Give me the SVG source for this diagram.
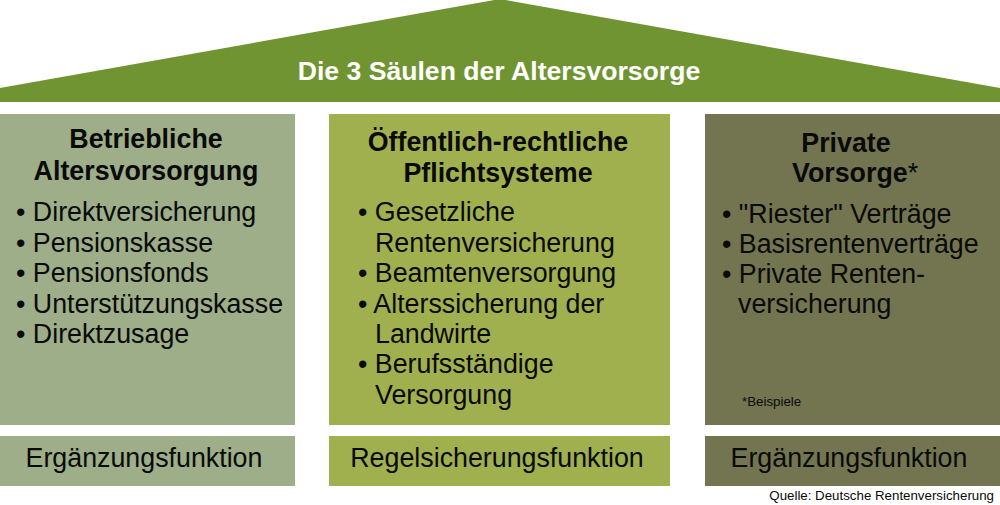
<svg xmlns="http://www.w3.org/2000/svg" width="1000" height="505" viewBox="0 0 1000 505">
<style>
text{font-family:"Liberation Sans",Arial,sans-serif;fill:#0a0a0a;}
.t{font-size:26.6px;font-weight:bold;fill:#fff;}
.h{font-size:26.8px;font-weight:bold;}
.b{font-size:26.8px;}
.f{font-size:26.8px;}
.s{font-size:13.3px;}
.c1{fill:#9dae88;}
.c2{fill:#a0b04e;}
.c3{fill:#727550;}
</style>
<rect width="1000" height="505" fill="#fff"/>
<g id="roof">
<polygon points="0,88 500,-1 1000,88 1000,102 0,102" fill="#719432"/>
<text class="t" x="499" y="80" text-anchor="middle">Die 3 Säulen der Altersvorsorge</text>
</g>
<g id="saeule1">
<rect class="c1" x="0" y="114" width="295" height="311"/>
<text class="h" x="146" y="148" text-anchor="middle">Betriebliche</text>
<text class="h" x="146" y="180" text-anchor="middle">Altersvorsorgung</text>
<text class="b" x="16" y="221">• Direktversicherung</text>
<text class="b" x="16" y="252">• Pensionskasse</text>
<text class="b" x="16" y="282">• Pensionsfonds</text>
<text class="b" x="16" y="313">• Unterstützungskasse</text>
<text class="b" x="16" y="343">• Direktzusage</text>
</g>
<g id="saeule2">
<rect class="c2" x="329" y="114" width="341" height="311"/>
<text class="h" x="498" y="151" text-anchor="middle">Öffentlich-rechtliche</text>
<text class="h" x="498" y="182" text-anchor="middle">Pflichtsysteme</text>
<text class="b" x="358" y="221">• Gesetzliche</text>
<text class="b" x="375" y="252">Rentenversicherung</text>
<text class="b" x="358" y="282">• Beamtenversorgung</text>
<text class="b" x="358" y="313">• Alterssicherung der</text>
<text class="b" x="375" y="343">Landwirte</text>
<text class="b" x="358" y="373">• Berufsständige</text>
<text class="b" x="375" y="404">Versorgung</text>
</g>
<g id="saeule3">
<rect class="c3" x="705" y="114" width="295" height="311"/>
<text class="h" x="846" y="152" text-anchor="middle">Private</text>
<text class="h" x="792" y="182">Vorsorge<tspan font-weight="normal">*</tspan></text>
<text class="b" x="722" y="223">• "Riester" Verträge</text>
<text class="b" x="722" y="253">• Basisrentenverträge</text>
<text class="b" x="722" y="283">• Private Renten-</text>
<text class="b" x="738" y="313">versicherung</text>
<text class="s" x="742" y="406">*Beispiele</text>
</g>
<g id="funktion1">
<rect class="c1" x="0" y="436" width="295" height="50"/>
<text class="f" x="144" y="467" text-anchor="middle">Ergänzungsfunktion</text>
</g>
<g id="funktion2">
<rect class="c2" x="329" y="436" width="341" height="50"/>
<text class="f" x="497" y="467" text-anchor="middle">Regelsicherungsfunktion</text>
</g>
<g id="funktion3">
<rect class="c3" x="705" y="436" width="295" height="50"/>
<text class="f" x="849" y="467" text-anchor="middle">Ergänzungsfunktion</text>
</g>
<g id="quelle">
<text class="s" x="994" y="500" text-anchor="end">Quelle: Deutsche Rentenversicherung</text>
</g>
</svg>
